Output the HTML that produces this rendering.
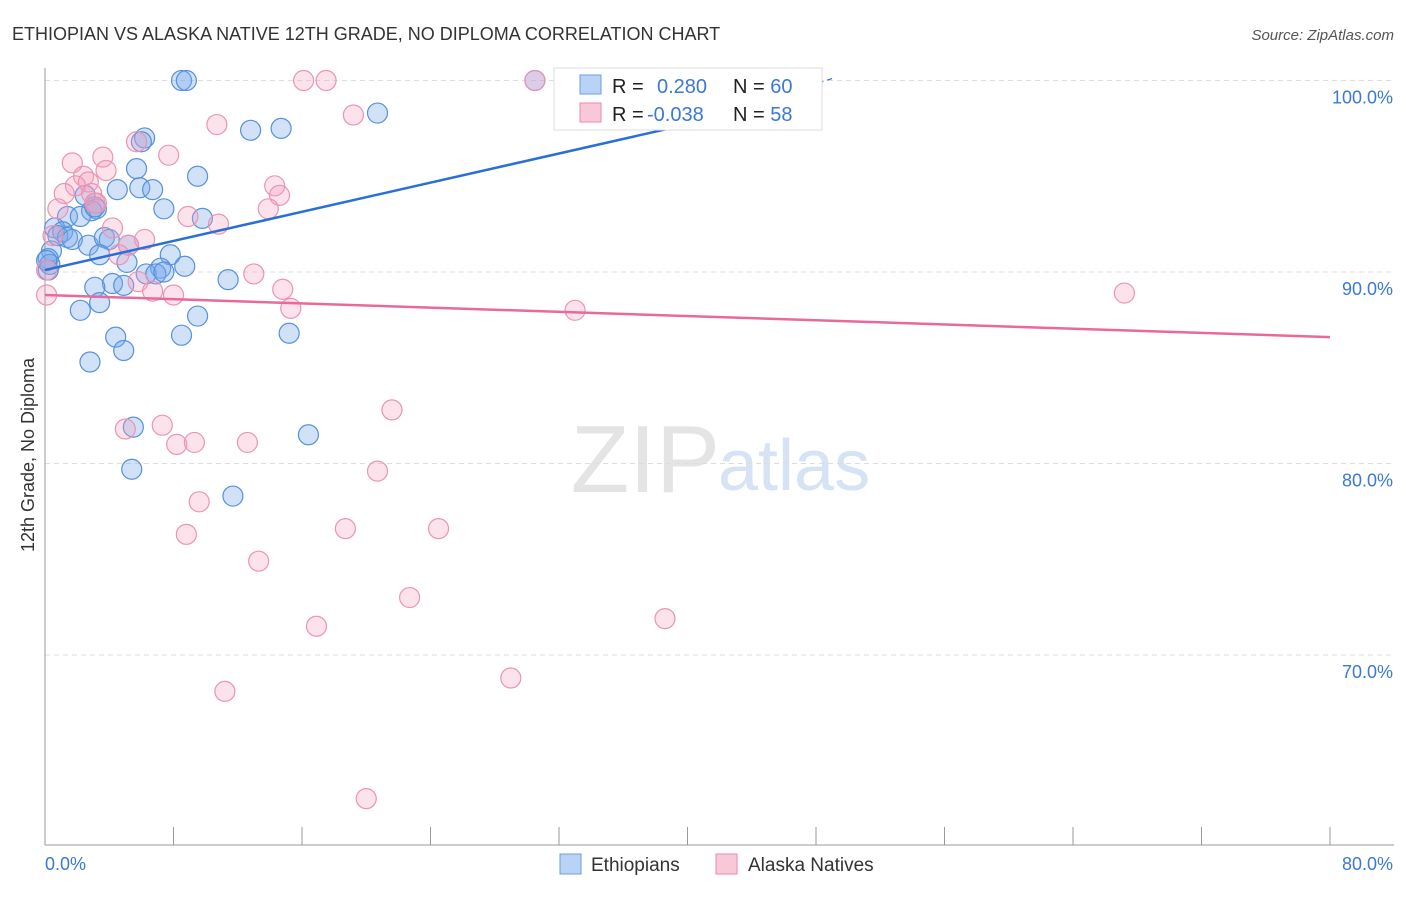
<!DOCTYPE html>
<html><head><meta charset="utf-8"><style>
body{margin:0;background:#fff;font-family:"Liberation Sans",sans-serif}
svg text{font-family:"Liberation Sans",sans-serif}
</style></head><body>
<svg id="chart" width="1406" height="892" viewBox="0 0 1406 892">
<text x="12" y="40" font-size="18" fill="#333">ETHIOPIAN VS ALASKA NATIVE 12TH GRADE, NO DIPLOMA CORRELATION CHART</text>
<text x="1394" y="40" font-size="15" fill="#555" font-style="italic" text-anchor="end">Source: ZipAtlas.com</text>
<text x="720" y="492" font-size="96" fill="#e4e4e4" text-anchor="end" font-family="Liberation Serif">ZIP</text>
<text x="718" y="490" font-size="72" fill="#d6e3f5">atlas</text>
<g id="grid"></g>
<g id="axes"></g>
<g id="pts"></g>
<g id="lines"></g>
<text transform="translate(34,455) rotate(-90)" font-size="18" fill="#333" text-anchor="middle">12th Grade, No Diploma</text>
<text x="45" y="870" font-size="18" fill="#3b78d8">0.0%</text>
<text x="1393" y="870" font-size="18" fill="#3b78d8" text-anchor="end">80.0%</text>
<g>
<rect x="554" y="68" width="268" height="62" fill="#fff" stroke="#ddd"/>
<rect x="580" y="75" width="21" height="19" fill="#b8d3f5" stroke="#6a9fe0"/>
<rect x="580" y="103" width="21" height="19" fill="#f9c8d8" stroke="#eb8aaa"/>
<text x="612" y="93" font-size="20" fill="#222">R = <tspan x="657" fill="#3b78d8">0.280</tspan><tspan x="733" fill="#222">N = </tspan><tspan fill="#3b78d8">60</tspan></text>
<text x="612" y="121" font-size="20" fill="#222">R = <tspan x="647" fill="#3b78d8">-0.038</tspan><tspan x="733" fill="#222">N = </tspan><tspan fill="#3b78d8">58</tspan></text>
</g>
<g>
<rect x="560" y="854" width="21" height="20" fill="#b8d3f5" stroke="#6a9fe0"/>
<text x="591" y="871" font-size="19" fill="#333">Ethiopians</text>
<rect x="716" y="854" width="21" height="20" fill="#f9c8d8" stroke="#eb8aaa"/>
<text x="748" y="871" font-size="19" fill="#333">Alaska Natives</text>
</g>
</svg>
<script>
const yTicks=[100,90,80,70];
const xTickVals=[0,8,16,24,32,40,48,56,64,72,80];
const blueX=[8.5,8.8,30.5,33,20.7,12.8,14.7,6.2,6.0,5.7,9.5,4.5,5.9,6.7,2.5,3.2,2.9,7.4,1.4,2.2,9.8,0.6,1.1,0.8,1.4,1.7,2.7,3.7,4.0,5.2,7.8,3.4,0.4,0.2,0.2,5.1,8.7,7.2,6.3,6.9,7.4,11.4,4.2,4.9,3.1,3.4,2.2,9.5,8.5,4.4,15.2,4.9,2.8,16.4,5.5,5.4,11.7,0.3,0.1,3.1];
const blueY=[100,100,100,100,98.3,97.4,97.5,97.0,96.8,95.4,95.0,94.3,94.4,94.3,94.0,93.3,93.2,93.3,92.9,92.9,92.8,92.3,92.1,91.9,91.8,91.7,91.4,91.8,91.7,91.4,90.9,90.9,91.1,90.7,90.1,90.5,90.3,90.2,89.9,89.9,90.0,89.6,89.4,89.3,89.2,88.4,88.0,87.7,86.7,86.6,86.8,85.9,85.3,81.5,81.9,79.7,78.3,90.4,90.6,93.4];
const pinkX=[16.1,17.5,30.5,41.6,44.8,19.2,10.7,5.7,7.7,1.7,3.6,3.8,2.4,2.7,1.9,1.2,2.9,14.3,14.6,3.2,0.8,8.9,10.8,13.9,4.2,0.5,6.2,5.2,4.6,13.0,5.8,6.7,8.0,0.1,14.8,15.3,33.0,67.2,21.6,7.3,5.0,8.2,9.3,12.6,20.7,9.6,8.8,18.7,24.5,13.3,22.7,38.6,16.9,11.2,29.0,20.0,0.1,3.1];
const pinkY=[100,100,100,100,100,98.2,97.7,96.8,96.1,95.7,96.0,95.3,95.0,94.7,94.5,94.1,94.1,94.5,94.0,93.6,93.3,92.9,92.5,93.3,92.3,91.9,91.7,91.4,90.9,89.9,89.5,89.0,88.8,88.8,89.1,88.1,88.0,88.9,82.8,82.0,81.8,81.0,81.1,81.1,79.6,78.0,76.3,76.6,76.6,74.9,73.0,71.9,71.5,68.1,68.8,62.5,90.1,93.6];
const X0=45,X1=1330,Y100=80.5,PX10=191.5;
const sx=v=>X0+v/80*(X1-X0);
const sy=v=>Y100+(100-v)/10*PX10;
const NS="http://www.w3.org/2000/svg";
function mk(t,a,p){const e=document.createElementNS(NS,t);for(const k in a)e.setAttribute(k,a[k]);p.appendChild(e);return e;}
const grid=document.getElementById('grid'),axes=document.getElementById('axes'),pts=document.getElementById('pts'),lines=document.getElementById('lines');
yTicks.forEach(v=>{
 const l=mk('line',{x1:X0,x2:1394,y1:sy(v),y2:sy(v),stroke:'#ddd','stroke-dasharray':'5,4'},grid);
 
 
 const t=mk('text',{x:1393,y:sy(v)+23,'font-size':18,fill:'#3b78d8','text-anchor':'end'},grid);
 t.textContent=v.toFixed(1)+'%';
 
 
});
const ya=mk('line',{x1:X0,x2:X0,y1:68,y2:845,stroke:'#999'},axes);


const xa=mk('line',{x1:X0,x2:1394,y1:845,y2:845,stroke:'#999'},axes);


xTickVals.forEach(v=>{
 const t=mk('line',{x1:sx(v),x2:sx(v),y1:827,y2:845,stroke:'#999'},axes);
 
 
});
blueX.forEach((v,i)=>{
 const c=mk('circle',{cx:sx(v),cy:sy(blueY[i]),r:10,fill:'rgba(120,170,235,0.35)',stroke:'#5591dd','stroke-width':1.2},pts);
 
 
});
pinkX.forEach((v,i)=>{
 const c=mk('circle',{cx:sx(v),cy:sy(pinkY[i]),r:10,fill:'rgba(245,160,190,0.3)',stroke:'#eb94b2','stroke-width':1.2},pts);
 
 
});
const bl=mk('line',{x1:sx(0),y1:sy(90.1),x2:sx(41),y2:sy(97.9),stroke:'#2a6fd6','stroke-width':2.5},lines);


const bd=mk('line',{x1:sx(41),y1:sy(97.9),x2:sx(49),y2:sy(100.1),stroke:'#2a6fd6','stroke-width':1.2,'stroke-dasharray':'6,4'},lines);


const pl=mk('line',{x1:sx(0),y1:sy(88.8),x2:sx(80),y2:sy(86.6),stroke:'#e8699a','stroke-width':2.5},lines);


</script>
</body></html>
